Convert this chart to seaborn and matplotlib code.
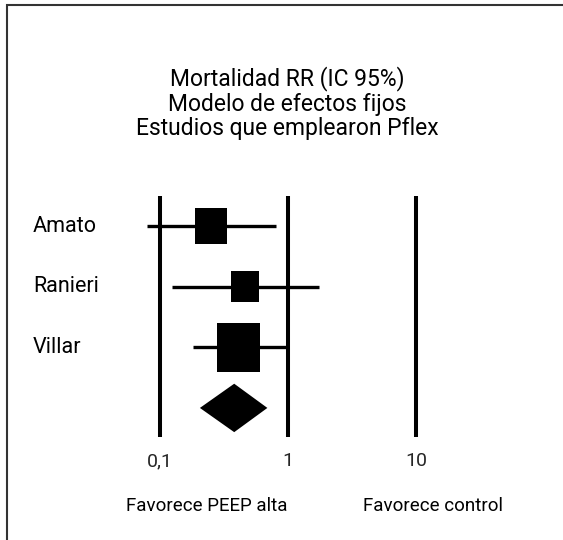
import matplotlib
matplotlib.use("Agg")
import matplotlib.pyplot as plt
from matplotlib.patches import Rectangle
import seaborn as sns
import pandas as pd
import numpy as np

# ---- data ----
estudios = ["Amato", "Ranieri", "Villar"]
rr = [0.25, 0.46, 0.41]
ic_inf = [0.079, 0.124, 0.18]
ic_sup = [0.80, 1.74, 0.98]
global_rr = 0.38
global_inf = 0.205
global_sup = 0.69
xticks = [0.1, 1, 10]
xticklabels = ["0,1", "1", "10"]
titulo = ["Mortalidad RR (IC 95%)", "Modelo de efectos fijos", "Estudios que emplearon Pflex"]
etiqueta_izq = "Favorece PEEP alta"
etiqueta_der = "Favorece control"

sns.set_theme(style="white")
fam = ["Roboto", "DejaVu Sans"]
plt.rcParams["font.family"] = fam

W, H = 563, 540
fig = plt.figure(figsize=(W / 100, H / 100), dpi=100)
fig.patch.set_facecolor("white")

# axes: x px 96..544 (log -1.5..2), y px 196..437
ax = fig.add_axes([96 / W, 1 - 437 / H, (544 - 96) / W, (437 - 196) / H])
ax.set_facecolor("white")

ypos = [3, 2, 1]
df = pd.DataFrame({"estudio": estudios, "rr": rr, "inf": ic_inf, "sup": ic_sup, "y": ypos})

# reference lines
for xv in xticks:
    ax.axvline(xv, color="black", lw=2.9, zorder=1)

# CI lines
ax.hlines(df["y"], df["inf"], df["sup"], color="black", lw=2.4, zorder=2)

# squares (slightly taller than wide)
rect = [(-0.445, -0.5), (0.445, -0.5), (0.445, 0.5), (-0.445, 0.5), (-0.445, -0.5)]
tamanos = {"Amato": 671, "Ranieri": 498, "Villar": 1245}
sns.scatterplot(data=df, x="rr", y="y", size="estudio", sizes=tamanos,
                marker=rect, color="black", edgecolor="none", legend=False,
                ax=ax, zorder=3)

# diamond (pooled)
h = 0.40
ax.fill([global_inf, global_rr, global_sup, global_rr],
        [0, h, 0, -h], color="black", lw=0, zorder=3)

ax.set_xscale("log")
ax.set_xlim(10 ** -1.5, 10 ** 2)
ax.set_ylim(-0.48, 3.5)
ax.set_xticks(xticks)
ax.set_xticklabels(xticklabels, fontsize=14)
ax.xaxis.set_minor_locator(matplotlib.ticker.NullLocator())
ax.tick_params(axis="x", length=0, pad=11)
ax.set_yticks([])
ax.set_xlabel("")
ax.set_ylabel("")
for s in ax.spines.values():
    s.set_visible(False)

# study labels
blend = matplotlib.transforms.blended_transform_factory(fig.transFigure, ax.transData)
for name, y in zip(estudios, ypos):
    ax.text(33 / W, y, name, transform=blend,
            ha="left", va="center", fontsize=15.5, color="black")

# titles
for i, t in enumerate(titulo):
    fig.text(287 / W, 1 - (79 + 25 * i) / H, t, ha="center", va="center", fontsize=16.5, color="black")

fig.text(207 / W, 1 - 506 / H, etiqueta_izq, ha="center", va="center", fontsize=13.5, color="black")
fig.text(433 / W, 1 - 506 / H, etiqueta_der, ha="center", va="center", fontsize=13.5, color="black")

# outer frame
fig.patches.append(Rectangle((6.5 / W, -0.05), 1.2, 1 - 4.5 / H + 0.05, transform=fig.transFigure,
                             fill=False, edgecolor="#333333", lw=1.5))

fig.savefig("out.png", dpi=100, facecolor="white")
